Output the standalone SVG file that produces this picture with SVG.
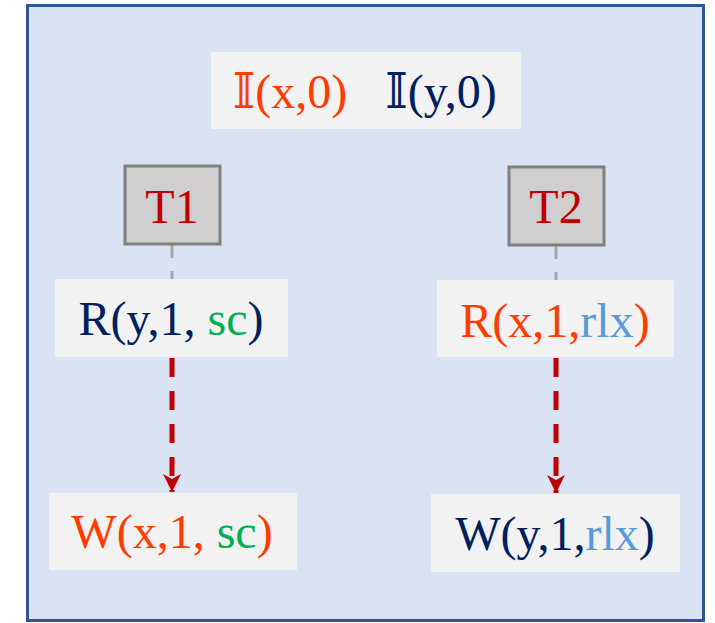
<svg xmlns="http://www.w3.org/2000/svg" width="715" height="623" viewBox="0 0 715 623">
<defs>
<style>
.t{font-family:"Liberation Serif","DejaVu Serif",serif;font-size:48px;text-anchor:middle}
.box{fill:#f2f2f2}
.th{fill:#d0cece;stroke:#7f7f7f;stroke-width:3}
.o{fill:#ff3c00}.n{fill:#002060}.g{fill:#00b050}.b{fill:#5b9bd5}.r{fill:#c00000}
.po{stroke:#a6a6a6;stroke-width:3;stroke-dasharray:14 13;fill:none}
.sb{stroke:#c00000;stroke-width:5;stroke-dasharray:19 14;fill:none}
</style>
<marker id="ah" markerWidth="20" markerHeight="20" viewBox="0 0 20 20" refX="18" refY="10" orient="auto" markerUnits="userSpaceOnUse">
<path d="M0,1 L18,10 L0,19 L5,10 Z" fill="#c00000"/>
</marker>
</defs>
<rect x="27.5" y="5.5" width="676" height="615" fill="#dae3f3" stroke="#2f5597" stroke-width="3"/>
<g id="init">
<rect class="box" x="211" y="52" width="310" height="77"/>
<text class="t" x="290" y="108"><tspan class="o">𝕀(x,0)</tspan></text>
<text class="t" x="441" y="108"><tspan class="n">𝕀(y,0)</tspan></text>
</g>
<g id="connectors">
<line class="po" x1="172" y1="244" x2="172" y2="279"/>
<line class="po" x1="556" y1="245" x2="556" y2="280"/>
<line class="sb" x1="172" y1="358" x2="172" y2="492" marker-end="url(#ah)"/>
<line class="sb" x1="556" y1="358" x2="556" y2="493" marker-end="url(#ah)"/>
</g>
<g id="T1">
<rect class="th" x="125" y="166" width="95" height="78"/>
<text class="t r" x="172" y="223">T1</text>
</g>
<g id="T2">
<rect class="th" x="509" y="167" width="95" height="78"/>
<text class="t r" x="556" y="223">T2</text>
</g>
<g id="r1">
<rect class="box" x="55" y="279" width="233" height="78"/>
<text class="t n" x="171" y="335">R(y,1, <tspan class="g">sc</tspan>)</text>
</g>
<g id="r2">
<rect class="box" x="437" y="280" width="237" height="77"/>
<text class="t o" x="555" y="337">R(x,1,<tspan class="b">rlx</tspan>)</text>
</g>
<g id="w1">
<rect class="box" x="49" y="493" width="248" height="77"/>
<text class="t o" x="172" y="548">W(x,1, <tspan class="g">sc</tspan>)</text>
</g>
<g id="w2">
<rect class="box" x="431" y="494" width="249" height="78"/>
<text class="t n" x="555" y="550">W(y,1,<tspan class="b">rlx</tspan>)</text>
</g>
</svg>
